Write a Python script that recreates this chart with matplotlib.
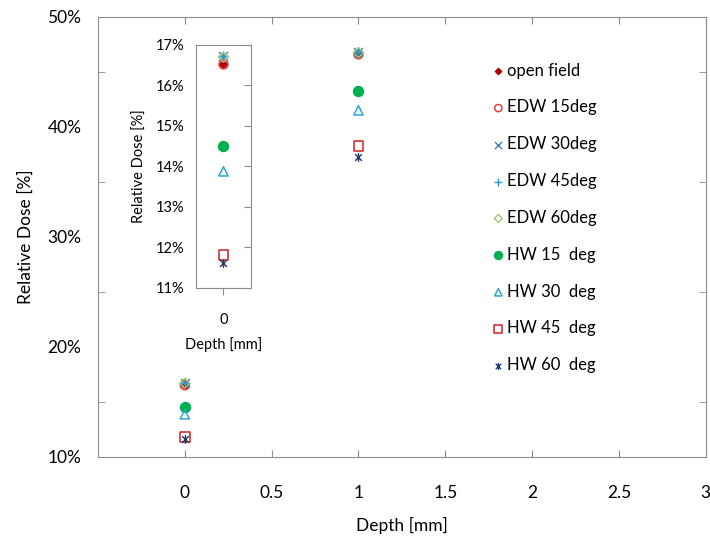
import numpy as np
import matplotlib
matplotlib.use('Agg')
import matplotlib.pyplot as plt
from matplotlib.path import Path
from matplotlib.ticker import FuncFormatter

plt.rcParams['font.family'] = ['Lato', 'DejaVu Sans']

# datos (dosis relativa en %)
depth = [0, 1]
series = ['open field', 'EDW 15deg', 'EDW 30deg', 'EDW 45deg', 'EDW 60deg',
          'HW 15  deg', 'HW 30  deg', 'HW 45  deg', 'HW 60  deg']
dose = {
    'open field': [16.53, 46.6],
    'EDW 15deg':  [16.52, 46.6],
    'EDW 30deg':  [16.72, 46.8],
    'EDW 45deg':  [16.74, 46.8],
    'EDW 60deg':  [16.70, 46.75],
    'HW 15  deg': [14.51, 43.25],
    'HW 30  deg': [13.88, 41.5],
    'HW 45  deg': [11.82, 38.3],
    'HW 60  deg': [11.62, 37.3],
}

# marcador estrella tipo Excel (x + linea vertical)
star = Path([(-1, -1), (1, 1), (-1, 1), (1, -1), (0, -1.3), (0, 1.3)],
            [Path.MOVETO, Path.LINETO, Path.MOVETO, Path.LINETO, Path.MOVETO, Path.LINETO])

estilos = {
    'open field': dict(marker='D', s=16, facecolor='#B00000', edgecolor='#B00000'),
    'EDW 15deg':  dict(marker='o', s=42, facecolor='none', edgecolor='#E0403C', linewidths=1.1),
    'EDW 30deg':  dict(marker='x', s=42, color='#4A7EBB', linewidths=1.0),
    'EDW 45deg':  dict(marker='+', s=60, color='#1E9FD8', linewidths=1.0),
    'EDW 60deg':  dict(marker='D', s=26, facecolor='none', edgecolor='#9BC86A', linewidths=1.0),
    'HW 15  deg': dict(marker='o', s=52, facecolor='#00B050', edgecolor='#00B050'),
    'HW 30  deg': dict(marker='^', s=44, facecolor='none', edgecolor='#2AA8D8', linewidths=1.1),
    'HW 45  deg': dict(marker='s', s=50, facecolor='none', edgecolor='#D02020', linewidths=1.1),
    'HW 60  deg': dict(marker=star, s=40, color='#1F3A70', linewidths=1.0),
}

gris = '#8C8C8C'
pct = FuncFormatter(lambda v, p: '%d%%' % round(v))

fig = plt.figure(figsize=(7.10, 5.44), dpi=100)
ax1 = fig.add_axes([0.138, 0.160, 0.856, 0.809])

for nombre in series:
    ax1.scatter(depth, dose[nombre], label=nombre, zorder=3, **estilos[nombre])

ax1.set_xlim(-0.5, 3)
ax1.set_ylim(10, 50)
ax1.set_xticks([0, 0.5, 1, 1.5, 2, 2.5, 3])
ax1.set_xticklabels(['0', '0.5', '1', '1.5', '2', '2.5', '3'])
ax1.set_yticks([10, 20, 30, 40, 50])
ax1.yaxis.set_major_formatter(pct)
ax1.set_yticks([15, 25, 35, 45], minor=True)

for sp in ax1.spines.values():
    sp.set_color(gris)
ax1.tick_params(axis='x', direction='in', top=True, length=5, color=gris,
                labelsize=12.5, pad=20)
ax1.tick_params(axis='y', which='major', length=0, labelsize=12.5, pad=12)
ax1.tick_params(axis='y', which='minor', direction='in', right=True, length=5, color=gris)

ax1.set_xlabel('Depth [mm]', fontsize=12.5, labelpad=12)
ax1.set_ylabel('Relative Dose [%]', fontsize=12.5, labelpad=10)

leg = ax1.legend(loc='upper left', bbox_to_anchor=(0.645, 0.896), frameon=False,
                 fontsize=12, labelspacing=1.25, handletextpad=0.0,
                 handlelength=1.0, borderpad=0, borderaxespad=0,
                 scatterpoints=1, markerscale=0.8)

# grafico insertado
ax2 = fig.add_axes([0.276, 0.4706, 0.0775, 0.4467])
for nombre in series:
    ax2.scatter([depth[0]], [dose[nombre][0]], zorder=3, **estilos[nombre])
ax2.set_xlim(-1, 1)
ax2.set_ylim(11, 17)
ax2.set_xticks([0])
ax2.set_yticks([11, 12, 13, 14, 15, 16, 17])
ax2.yaxis.set_major_formatter(pct)
for sp in ax2.spines.values():
    sp.set_color(gris)
ax2.tick_params(axis='y', direction='in', left=False, right=True, length=5,
                color=gris, labelsize=10.5, pad=8)
ax2.tick_params(axis='x', direction='out', length=5, color=gris,
                labelsize=10.5, pad=13)
ax2.set_xlabel('Depth [mm]', fontsize=10.5, labelpad=7)
ax2.set_ylabel('Relative Dose [%]', fontsize=10.5, labelpad=7)

fig.savefig('out.png', dpi=100)
